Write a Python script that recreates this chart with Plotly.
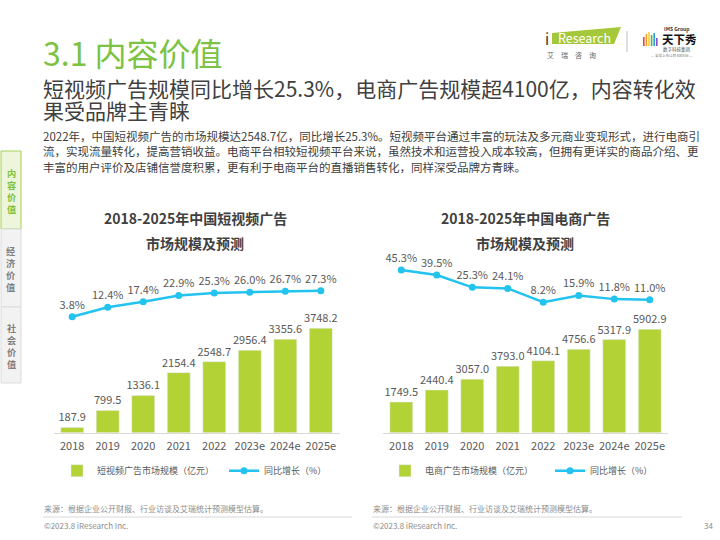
import plotly.graph_objects as go

years = ['2018', '2019', '2020', '2021', '2022', '2023e', '2024e', '2025e']
video_ad_size = [187.9, 799.5, 1336.1, 2154.4, 2548.7, 2956.4, 3355.6, 3748.2]
video_ad_growth = [3.8, 12.4, 17.4, 22.9, 25.3, 26.0, 26.7, 27.3]
ecom_ad_size = [1749.5, 2440.4, 3057.0, 3793.0, 4104.1, 4756.6, 5317.9, 5902.9]
ecom_ad_growth = [45.3, 39.5, 25.3, 24.1, 8.2, 15.9, 11.8, 11.0]

W, H = 720, 540
def X(p): return p / W
def Y(p): return 1 - p / H

FONT = "Noto Sans CJK SC"
BAR = '#b2d235'
LINE = '#22c3ef'
GREEN = '#7cc243'
LABEL = '#595959'

fig = go.Figure()
fig.add_trace(go.Bar(x=years, y=video_ad_size, name='短视频广告市场规模（亿元）', marker_color=BAR,
                     texttemplate='%{y:.1f}', textposition='outside', cliponaxis=False, constraintext='none',
                     textfont=dict(size=11, color=LABEL, family=FONT), xaxis='x', yaxis='y', legend='legend'))
fig.add_trace(go.Scatter(x=years, y=video_ad_growth, name='同比增长（%）', mode='lines+markers+text',
                         line=dict(color=LINE, width=2.5), marker=dict(size=7, color=LINE),
                         texttemplate='%{y:.1f}%', textposition='top center', cliponaxis=False,
                         textfont=dict(size=11, color=LABEL, family=FONT), xaxis='x', yaxis='y2', legend='legend2'))
fig.add_trace(go.Bar(x=years, y=ecom_ad_size, name='电商广告市场规模（亿元）', marker_color=BAR,
                     texttemplate='%{y:.1f}', textposition='outside', cliponaxis=False, constraintext='none',
                     textfont=dict(size=11, color=LABEL, family=FONT), xaxis='x2', yaxis='y3', legend='legend3'))
fig.add_trace(go.Scatter(x=years, y=ecom_ad_growth, name='同比增长（%）', mode='lines+markers+text',
                         line=dict(color=LINE, width=2.5), marker=dict(size=7, color=LINE),
                         texttemplate='%{y:.1f}%', textposition='top center', cliponaxis=False,
                         textfont=dict(size=11, color=LABEL, family=FONT), xaxis='x2', yaxis='y4', legend='legend4'))

base, top = 432.7, 250.0
dom = [Y(base), Y(top)]
xcommon = dict(type='category', showline=True, linecolor='#d9d9d9', linewidth=1, ticks='',
               tickfont=dict(size=11, color=LABEL, family=FONT), showgrid=False, fixedrange=True,
               ticklabelstandoff=3)

def leg(xpx):
    return dict(orientation='h', x=X(xpx), xanchor='left', y=Y(470.7), yanchor='middle',
                font=dict(size=9, color=LABEL, family=FONT), itemwidth=30, bgcolor='rgba(0,0,0,0)')

fig.update_layout(
    width=W, height=H, autosize=False, margin=dict(l=0, r=0, t=0, b=0),
    paper_bgcolor='white', plot_bgcolor='rgba(0,0,0,0)',
    font=dict(family=FONT, color=LABEL),
    bargap=0.356, showlegend=True,
    xaxis=dict(domain=[X(53.5), X(339.5)], anchor='y', **xcommon),
    yaxis=dict(domain=dom, range=[0, (base - top) / 0.02786], visible=False, fixedrange=True),
    yaxis2=dict(overlaying='y', anchor='x', range=[-(base - 320.9) / 1.106, (320.9 - top) / 1.106],
                visible=False, fixedrange=True),
    xaxis2=dict(domain=[X(382.6), X(668.4)], anchor='y3', **xcommon),
    yaxis3=dict(domain=dom, anchor='x2', range=[0, (base - top) / 0.01752], visible=False, fixedrange=True),
    yaxis4=dict(overlaying='y3', anchor='x2', range=[-(base - 309.4) / 0.871, (309.4 - top) / 0.871],
                visible=False, fixedrange=True),
    legend=leg(57), legend2=leg(224), legend3=leg(385), legend4=leg(550),
)

ann = []
def text(x, y, s, size, color, xanchor='left', bold=False, yanchor='middle'):
    if bold:
        s = '<b>' + s + '</b>'
    ann.append(dict(x=X(x), y=Y(y), xref='paper', yref='paper', text=s, showarrow=False,
                    xanchor=xanchor, yanchor=yanchor, borderpad=0,
                    font=dict(size=size, color=color, family=FONT)))

# header
text(42, 51.7, '3.1 内容价值', 32, GREEN)
text(42, 88, '短视频广告规模同比增长25.3%，电商广告规模超4100亿，内容转化效', 21, '#404040')
text(42, 110, '果受品牌主青睐', 21, '#404040')
para = ['2022年，中国短视频广告的市场规模达2548.7亿，同比增长25.3%。短视频平台通过丰富的玩法及多元商业变现形式，进行电商引',
        '流，实现流量转化，提高营销收益。电商平台相较短视频平台来说，虽然技术和运营投入成本较高，但拥有更详实的商品介绍、更',
        '丰富的用户评价及店铺信誉度积累，更有利于电商平台的直播销售转化，同样深受品牌方青睐。']
for i, line in enumerate(para):
    text(42, 136 + i * 15.3, line, 11.5, '#404040')

# chart titles
text(195.5, 218, '2018-2025年中国短视频广告', 14, '#404040', xanchor='center', bold=True)
text(195.5, 243, '市场规模及预测', 14, '#404040', xanchor='center', bold=True)
text(525, 218, '2018-2025年中国电商广告', 14, '#404040', xanchor='center', bold=True)
text(525, 243, '市场规模及预测', 14, '#404040', xanchor='center', bold=True)

# side tabs
shapes = []
tabs = [('内容价值', 151, 229, '#edf5db', '#a9d057', '#7cc243'),
        ('经济价值', 229, 307, '#f2f2f2', '#dcdcdc', '#7f7f7f'),
        ('社会价值', 307, 383, '#f2f2f2', '#dcdcdc', '#7f7f7f')]
for label, y0, y1, fill, border, col in tabs:
    shapes.append(dict(type='rect', xref='paper', yref='paper', x0=X(1), x1=X(21), y0=Y(y1), y1=Y(y0),
                       fillcolor=fill, line=dict(color=border, width=1), layer='below'))
    c = (y0 + y1) / 2 + 1
    text(11, c, '<br>'.join('<b>' + ch + '</b>' for ch in label), 9.2, col, xanchor='center')

# footer
for x0, x1 in [(43, 352), (372, 682)]:
    text(x0, 509, '来源：根据企业公开财报、行业访谈及艾瑞统计预测模型估算。', 8, '#8c8c8c')
    text(x0, 525.5, '©2023.8 iResearch Inc.', 8, '#8c8c8c')
    shapes.append(dict(type='line', xref='paper', yref='paper', x0=X(x0), x1=X(x1), y0=Y(517), y1=Y(517),
                       line=dict(color='#d9d9d9', width=1.2)))
text(714, 525.5, '34', 8, '#8c8c8c', xanchor='right')

# logos
shapes.append(dict(type='path', xref='paper', yref='paper',
                   path=f'M{X(552)},{Y(33)} L{X(621)},{Y(27)} L{X(614)},{Y(44)} L{X(552)},{Y(44)} Z',
                   fillcolor='#a5c83b', line=dict(width=0)))
text(547, 38, 'i', 15, '#333333', xanchor='center')
text(584, 37.5, 'Research', 12.5, 'white', xanchor='center')
text(571, 55, '艾　瑞　咨　询', 7, '#666666', xanchor='center')
shapes.append(dict(type='line', xref='paper', yref='paper', x0=X(627), x1=X(627), y0=Y(31), y1=Y(52),
                   line=dict(color='#bfbfbf', width=1)))
for i, (col, h) in enumerate(zip(['#e8423f', '#f39a2b', '#f6cf2b', '#4cb648', '#2e9be0', '#8a4fc4'],
                                  [9, 12, 14, 11, 13, 8])):
    shapes.append(dict(type='rect', xref='paper', yref='paper', x0=X(643 + i * 2.6), x1=X(644.6 + i * 2.6),
                       y0=Y(46), y1=Y(46 - h), fillcolor=col, line=dict(width=0)))
text(663, 28.5, '<b>IMS Group</b>', 5, '#333333')
text(661, 39, '<b>天下秀</b>', 11.5, '#111111')
text(662, 49, '数字科技集团', 4.5, '#555555')
text(671, 55, '— 全球上市公司 600556 —', 3.5, '#777777', xanchor='center')

fig.update_layout(annotations=ann, shapes=shapes)
fig.write_html('out.html', config={'displayModeBar': False},
               post_script="document.body.style.margin='0';document.body.style.padding='0';")
